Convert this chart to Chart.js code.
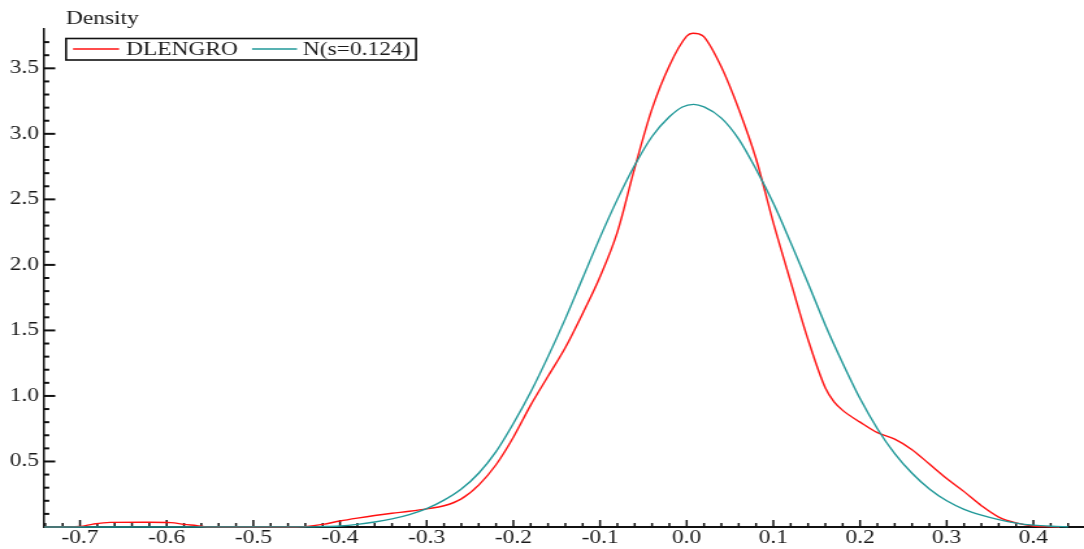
<!DOCTYPE html>
<html><head><meta charset="utf-8">
<script src="https://cdn.jsdelivr.net/npm/chart.js@4.4.1/dist/chart.umd.min.js"></script>
<style>
html,body{margin:0;padding:0;background:#fff;overflow:hidden;}
#wrap{width:1084px;height:549px;overflow:hidden;}
#c{display:block;transform:scaleX(1.29976);transform-origin:0 0;}
</style></head><body>
<div id="wrap"><canvas id="c" width="834" height="549" style="width:834px;height:549px"></canvas></div>
<script>
// ---- data ----
const seriesNames = ['DLENGRO', 'N(s=0.124)'];
const axisTitle = 'Density';
const xTickLabels = ['-0.7','-0.6','-0.5','-0.4','-0.3','-0.2','-0.1','0.0','0.1','0.2','0.3','0.4'];
const yTickLabels = ['0.5','1.0','1.5','2.0','2.5','3.0','3.5'];
const xMin = -0.7413, xMax = 0.4584, yMin = 0, yMax = 3.80;

const redX = [-0.7413,-0.700,-0.685,-0.665,-0.620,-0.595,-0.580,-0.565,-0.553,-0.450,-0.440,-0.420,-0.400,-0.380,-0.360,-0.340,-0.320,-0.300,-0.280,-0.260,-0.240,-0.220,-0.200,-0.180,-0.160,-0.140,-0.120,-0.100,-0.080,-0.060,-0.040,-0.020,0.000,0.007,0.014,0.020,0.040,0.060,0.080,0.100,0.120,0.140,0.160,0.170,0.180,0.200,0.220,0.240,0.260,0.280,0.300,0.320,0.340,0.360,0.380,0.400,0.420,0.430];
const redY = [0,0.004,0.022,0.035,0.036,0.033,0.020,0.010,0,0,0.003,0.020,0.046,0.068,0.088,0.105,0.120,0.138,0.162,0.215,0.320,0.475,0.685,0.930,1.150,1.370,1.630,1.910,2.250,2.740,3.190,3.520,3.745,3.768,3.762,3.740,3.510,3.190,2.810,2.320,1.870,1.430,1.060,0.955,0.890,0.800,0.720,0.670,0.590,0.480,0.370,0.270,0.163,0.076,0.031,0.008,0.002,0];

const tealX = [-0.7413,-0.440,-0.420,-0.400,-0.380,-0.360,-0.340,-0.320,-0.300,-0.280,-0.260,-0.240,-0.220,-0.200,-0.180,-0.160,-0.140,-0.120,-0.100,-0.080,-0.060,-0.040,-0.020,-0.005,0.008,0.020,0.040,0.060,0.080,0.100,0.120,0.140,0.160,0.180,0.200,0.220,0.240,0.260,0.280,0.300,0.320,0.340,0.360,0.380,0.400,0.420,0.440];
const tealY = [0,0.001,0.003,0.008,0.020,0.038,0.062,0.095,0.140,0.205,0.290,0.410,0.575,0.790,1.030,1.300,1.590,1.900,2.210,2.500,2.760,2.980,3.130,3.205,3.225,3.205,3.120,2.960,2.730,2.470,2.170,1.860,1.540,1.250,0.980,0.750,0.560,0.410,0.290,0.200,0.135,0.090,0.056,0.030,0.014,0.006,0.002];

const seriesColors = ['#ff1010', '#209898'];
const FONT = '"Liberation Serif", "Times New Roman", serif';

function pts(xs, ys) { return xs.map((x, i) => ({x: x, y: ys[i]})); }
function fmt(v) { return (Math.round(v * 10) / 10).toFixed(1); }

const decor = {
  id: 'decor',
  beforeDatasetsDraw(chart) {
    const {ctx, chartArea: a, scales: {x, y}} = chart;
    ctx.save();
    ctx.strokeStyle = '#111';
    // x ticks (inside, pointing up)
    ctx.lineWidth = 1.5;
    for (let i = -37; i <= 22; i++) {
      const v = i * 0.02;
      if (v < xMin || v > xMax) continue;
      const px = x.getPixelForValue(v);
      const len = (i % 5 === 0) ? 7 : 4;
      ctx.beginPath(); ctx.moveTo(px, a.bottom); ctx.lineTo(px, a.bottom - len); ctx.stroke();
    }
    // y ticks (inside, pointing right)
    ctx.lineWidth = 2;
    for (let j = 1; j <= 38; j++) {
      const v = j * 0.1;
      if (v > yMax) continue;
      const py = y.getPixelForValue(v);
      const len = (j % 5 === 0) ? 8.5 : 3.9;
      ctx.beginPath(); ctx.moveTo(a.left, py); ctx.lineTo(a.left + len, py); ctx.stroke();
    }
    ctx.restore();
  },
  afterDraw(chart) {
    const ctx = chart.ctx;
    ctx.save();
    ctx.fillStyle = '#1a1a1a';
    ctx.font = '18px ' + FONT;
    ctx.textBaseline = 'alphabetic';
    ctx.textAlign = 'left';
    ctx.fillText(axisTitle, 50.8, 24);
    // legend box
    ctx.lineWidth = 1.6;
    ctx.strokeStyle = '#111';
    ctx.strokeRect(50.8, 38.5, 269.3, 21.5);
    const items = [
      {x1: 56.2, x2: 91.6, tx: 96.9, name: chart.data.datasets[1].label, col: chart.data.datasets[1].borderColor},
      {x1: 193.9, x2: 228.5, tx: 233.1, name: chart.data.datasets[0].label, col: chart.data.datasets[0].borderColor}
    ];
    for (const it of items) {
      ctx.strokeStyle = it.col; ctx.lineWidth = 1.5;
      ctx.beginPath(); ctx.moveTo(it.x1, 49); ctx.lineTo(it.x2, 49); ctx.stroke();
      ctx.fillStyle = '#1a1a1a';
      ctx.fillText(it.name, it.tx, 55);
    }
    ctx.restore();
  }
};

new Chart(document.getElementById('c'), {
  type: 'line',
  data: {
    datasets: [
      {label: seriesNames[1], data: pts(tealX, tealY), borderColor: seriesColors[1], borderWidth: 1.4,
       pointRadius: 0, cubicInterpolationMode: 'monotone', fill: false, order: 0, clip: false},
      {label: seriesNames[0], data: pts(redX, redY), borderColor: seriesColors[0], borderWidth: 1.4,
       pointRadius: 0, cubicInterpolationMode: 'monotone', fill: false, order: 1, clip: false}
    ]
  },
  options: {
    responsive: false, animation: false, devicePixelRatio: 1,
    layout: {padding: {top: 29, left: 0, right: 0, bottom: 0}},
    plugins: {legend: {display: false}, tooltip: {enabled: false}, title: {display: false}},
    scales: {
      x: {
        type: 'linear', min: xMin, max: xMax,
        grid: {display: false, drawTicks: false},
        border: {display: true, color: '#111', width: 2},
        ticks: {stepSize: 0.1, includeBounds: false, autoSkip: false, maxRotation: 0, padding: 0,
          color: '#1a1a1a', font: {family: FONT, size: 18},
          callback: (v) => { const s = fmt(v); return xTickLabels.includes(s) ? s : ''; }},
        afterFit: (s) => { s.height = 22; }
      },
      y: {
        type: 'linear', min: yMin, max: yMax,
        grid: {display: false, drawTicks: false},
        border: {display: true, color: '#111', width: 1.5},
        ticks: {stepSize: 0.5, includeBounds: false, padding: 4,
          color: '#1a1a1a', font: {family: FONT, size: 18},
          callback: (v) => { const s = fmt(v); return yTickLabels.includes(s) ? s : ''; }},
        afterFit: (s) => { s.width = 34; }
      }
    }
  },
  plugins: [decor]
});
</script>
</body></html>
